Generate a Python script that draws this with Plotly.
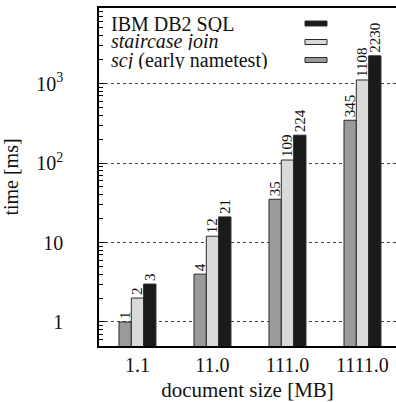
import plotly.graph_objects as go

# Document sizes (category axis) and query times in ms
sizes = ["1.1", "11.0", "111.0", "1111.0"]
scj_early = [1, 4, 35, 345]
staircase_join = [2, 12, 109, 1108]
db2_sql = [3, 21, 224, 2230]

series_names = ["<i>scj</i> (early nametest)", "<i>staircase join</i>", "IBM DB2 SQL"]
series_values = [scj_early, staircase_join, db2_sql]
series_colors = ["#9a9a9a", "#d9d9d9", "#1a1a1a"]

y_tickvals = [1, 10, 100, 1000]
y_ticktext = ["1", "10", "10<sup>2</sup>", "10<sup>3</sup>"]

W, H = 396, 402
ML, MT, MB, MR = 99, 8, 56, 0
PW, PH = W - ML - MR, H - MT - MB

SERIF = "Liberation Serif"


def px_x(x):
    return (x - ML) / PW


def px_y(y):
    return 1 - (y - MT) / PH


fig = go.Figure()
for name, vals, col in zip(series_names, series_values, series_colors):
    fig.add_trace(go.Bar(
        x=sizes, y=vals, name=name,
        marker=dict(color=col, line=dict(color="#2a2a2a", width=1)),
        text=[str(v) for v in vals], textposition="outside", textangle=-90,
        textfont=dict(family=SERIF, size=15, color="#111"),
        constraintext="none", cliponaxis=False, showlegend=False,
    ))

minor_vals = [m * 10 ** k for k in range(-1, 4) for m in range(2, 10)]

fig.update_layout(
    width=W, height=H,
    margin=dict(l=ML, r=MR, t=MT, b=MB),
    paper_bgcolor="white", plot_bgcolor="white",
    barmode="group", bargap=0.507, bargroupgap=0,
    font=dict(family=SERIF, size=20, color="#111"),
    showlegend=False,
    xaxis=dict(
        range=[-0.513, -0.513 + PW / 75.0],
        showline=True, linecolor="black", linewidth=1.5, mirror=True,
        ticks="", showgrid=False,
        tickfont=dict(family=SERIF, size=20),
        title=dict(text="document size [MB]", font=dict(family=SERIF, size=21), standoff=9),
    ),
    yaxis=dict(
        type="log", range=[-0.302, 3.95],
        tickvals=y_tickvals, ticktext=y_ticktext,
        ticks="inside", ticklen=6, tickcolor="black",
        showline=True, linecolor="black", linewidth=1.5,
        showgrid=True, gridcolor="#444", griddash="dot", gridwidth=1,
        zeroline=False,
        minor=dict(tickvals=minor_vals, ticks="inside", ticklen=4,
                   tickcolor="black", showgrid=False),
        ticklabelstandoff=30,
        tickfont=dict(family=SERIF, size=20),
        title=dict(text="time [ms]", font=dict(family=SERIF, size=20), standoff=12),
    ),
)

# Legend: text on the left, swatch on the right
legend_rows = [("IBM DB2 SQL", "#1a1a1a", 23.5),
               ("<i>staircase join</i>", "#d9d9d9", 42),
               ("<i>scj</i> (early nametest)", "#9a9a9a", 60)]
for label, col, yc in legend_rows:
    fig.add_annotation(
        x=px_x(110), y=px_y(yc), xref="paper", yref="paper",
        text=label, showarrow=False, xanchor="left", yanchor="middle",
        height=17, borderpad=0,
        font=dict(family=SERIF, size=20, color="#111"),
    )
    fig.add_shape(
        type="rect", xref="paper", yref="paper",
        x0=px_x(305), x1=px_x(327), y0=px_y(yc - 2.5), y1=px_y(yc + 2.5),
        fillcolor=col, line=dict(color="#2a2a2a", width=1),
    )

fig.write_html("out.html")
